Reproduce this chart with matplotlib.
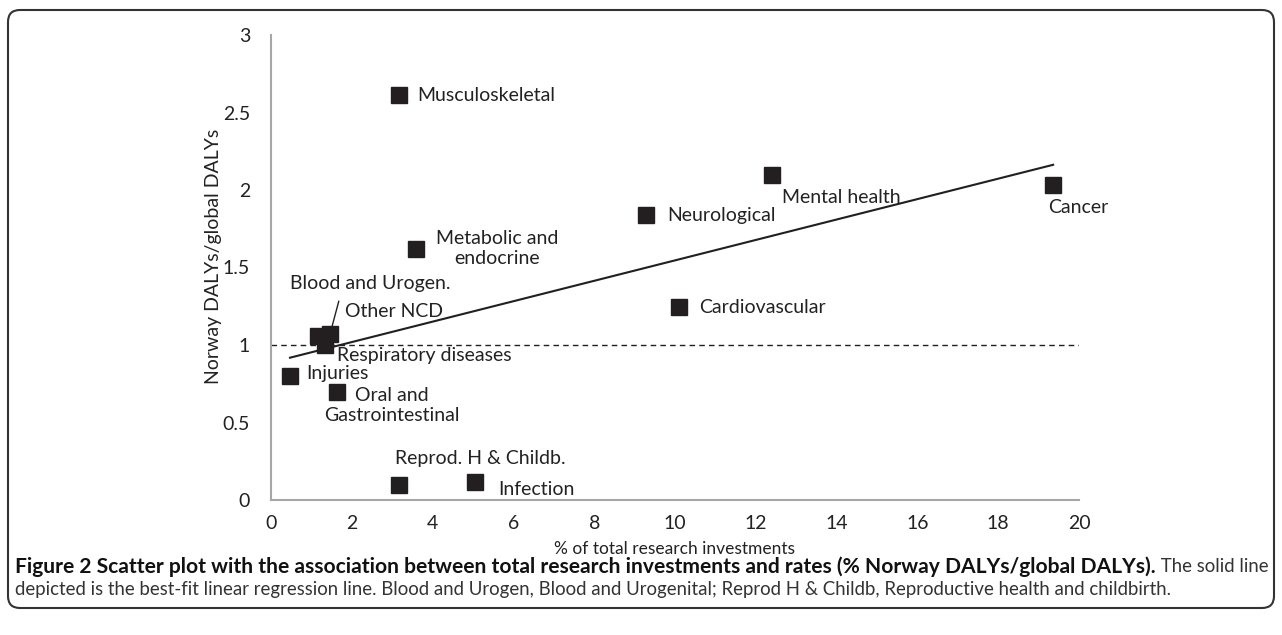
import matplotlib
matplotlib.use("Agg")
import matplotlib.pyplot as plt
import numpy as np
from matplotlib.patches import FancyBboxPatch
from matplotlib.transforms import IdentityTransform

# values
categories = ["Musculoskeletal", "Mental health", "Cancer", "Neurological",
              "Metabolic and\nendocrine", "Cardiovascular", "Blood and Urogen.",
              "Other NCD", "Respiratory diseases", "Injuries",
              "Oral and\nGastrointestinal", "Reprod. H & Childb.", "Infection"]
research_pct = [3.16, 12.39, 19.36, 9.28, 3.60, 10.09, 1.46, 1.16, 1.34,
                0.47, 1.63, 3.16, 5.04]
daly_ratio = [2.61, 2.10, 2.03, 1.84, 1.62, 1.245, 1.07, 1.06, 1.00,
              0.80, 0.70, 0.095, 0.115]
x_ticks = list(range(0, 21, 2))
y_ticks = [0, 0.5, 1, 1.5, 2, 2.5, 3]
y_tick_labels = ["0", "0.5", "1", "1.5", "2", "2.5", "3"]
ref_level = 1.0

# label placement: offset in pixels from the marker, horizontal alignment
label_layout = [(19, 0, "left"), (10, -23, "left"), (-5, -22, "left"),
                (21, -1, "left"), (81, 0, "center"), (20, 0, "left"),
                (-40, 51, "left"), (27, 24, "left"), (12, -10, "left"),
                (16, 2, "left"), (55, -14, "center"), (82, 27, "center"),
                (24, -7, "left")]

caption_bold = ("Figure 2 Scatter plot with the association between total research "
                "investments and rates (% Norway DALYs/global DALYs).")
caption_rest = " The solid line"
caption_line2 = ("depicted is the best-fit linear regression line. Blood and Urogen, "
                 "Blood and Urogenital; Reprod H & Childb, Reproductive health and childbirth.")

plt.rcParams["font.family"] = ["Lato", "DejaVu Sans"]

W, H = 1282, 635
fig = plt.figure(figsize=(W / 100, H / 100), dpi=100)
ax = fig.add_axes([271 / W, 1 - 500 / H, (1079 - 271) / W, (500 - 35) / H])

dark = "#231F20"
txt = "#222222"
x = np.array(research_pct)
y = np.array(daly_ratio)

ax.axhline(ref_level, color=dark, lw=1.0, ls=(0, (4, 3)), zorder=1)
slope, intercept = np.polyfit(x, y, 1)
fit_x = np.array([x.min(), x.max()])
ax.plot(fit_x, slope * fit_x + intercept, color=dark, lw=1.5, zorder=2)
ax.plot(x, y, "s", ms=11.5, color=dark, ls="none", zorder=3)

for i, name in enumerate(categories):
    dx, dy, ha = label_layout[i]
    kw = {}
    if name.startswith("Blood"):
        kw["arrowprops"] = dict(arrowstyle="-", color=dark, lw=1.0,
                                relpos=(0.32, 0), shrinkA=5, shrinkB=6)
    ax.annotate(name, (x[i], y[i]), xytext=(dx, dy), textcoords="offset pixels",
                ha=ha, va="center", multialignment="center", fontsize=14,
                color=txt, zorder=4, **kw)

ax.set_xlim(0, 20)
ax.set_ylim(0, 3)
ax.set_xticks(x_ticks)
ax.set_yticks(y_ticks)
ax.set_yticklabels(y_tick_labels)
ax.tick_params(length=0, labelsize=14, labelcolor=txt)
ax.tick_params(axis="y", pad=15)
ax.tick_params(axis="x", pad=11)
for side in ["top", "right"]:
    ax.spines[side].set_visible(False)
for side in ["left", "bottom"]:
    ax.spines[side].set_color("#A6A6A6")
    ax.spines[side].set_linewidth(1.5)

ax.set_xlabel("% of total research investments", fontsize=12.5, color=txt)
ax.xaxis.set_label_coords(0.5, -0.088)
ax.set_ylabel("Norway DALYs/global DALYs", fontsize=14, color=txt)
ax.yaxis.set_label_coords(-0.061, 0.525)

# caption below the plot, bold lead-in followed by plain text
renderer = fig.canvas.get_renderer()
cap_y1 = 1 - 567 / H
cap_y2 = 1 - 590 / H
t1 = fig.text(15 / W, cap_y1, caption_bold, fontsize=12, fontweight="bold",
              va="center", color="#111111")
t2 = fig.text(0, cap_y1, caption_rest, fontsize=12, va="center", color="#333333")
t3 = fig.text(15 / W, cap_y2, caption_line2, fontsize=12, va="center", color="#333333")
w1 = t1.get_window_extent(renderer).width
w3 = t3.get_window_extent(renderer).width
t1.set_fontsize(12 * 1132 / w1)
t2.set_fontsize(12 * 1155 / w3)
t3.set_fontsize(12 * 1155 / w3)
bb = t1.get_window_extent(renderer)
t2.set_x(bb.x1 / W)

border = FancyBboxPatch((8, 27), 1266, 598, boxstyle="round,pad=0,rounding_size=12",
                        transform=IdentityTransform(), fill=False,
                        edgecolor="#333333", lw=1.5)
fig.add_artist(border)

fig.savefig("out.png", dpi=100)
